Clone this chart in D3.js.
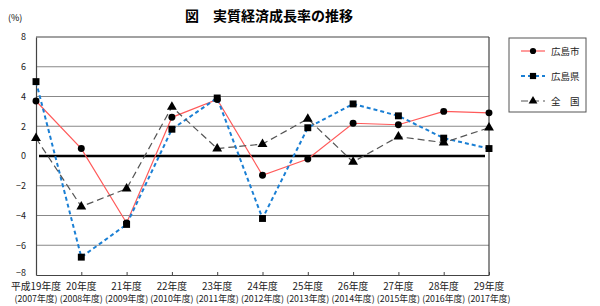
<!DOCTYPE html>
<html><head><meta charset="utf-8">
<script src="https://cdn.jsdelivr.net/npm/d3@7"></script>
<style>body{margin:0;background:#fff}svg{display:block}text{font-family:"Noto Sans CJK JP",sans-serif}</style>
</head><body><svg id="c" width="600" height="306"></svg>
<script>
const years = ["平成19年度","20年度","21年度","22年度","23年度","24年度","25年度","26年度","27年度","28年度","29年度"];
const seireki = ["(2007年度)","(2008年度)","(2009年度)","(2010年度)","(2011年度)","(2012年度)","(2013年度)","(2014年度)","(2015年度)","(2016年度)","(2017年度)"];
const hiroshimaCity = [3.7, 0.5, -4.5, 2.6, 3.8, -1.3, -0.2, 2.2, 2.1, 3.0, 2.9];
const hiroshimaPref = [5.0, -6.8, -4.6, 1.8, 3.9, -4.2, 1.9, 3.5, 2.7, 1.2, 0.5];
const national = [1.2, -3.4, -2.2, 3.3, 0.5, 0.8, 2.5, -0.4, 1.3, 0.9, 1.9];
const yTicks = [-8,-6,-4,-2,0,2,4,6,8];
const seriesNames = ["広島市","広島県","全　国"];

const svg = d3.select("#c");
const L=36, R=489, T=37, B=275;
const x = d3.scalePoint().domain(d3.range(years.length)).range([L,R]);
const y = d3.scaleLinear().domain([-8,8]).range([B,T]);

// title
svg.append("text").attr("x",269).attr("y",21).attr("text-anchor","middle")
  .attr("font-size",14).attr("font-weight","bold").text("図　実質経済成長率の推移");
svg.append("text").attr("x",8).attr("y",21).attr("font-size",9).text("(%)");

// gridlines
svg.append("g").selectAll("line").data(yTicks.filter(d=>d!==0 && d!==-8)).join("line")
  .attr("x1",L).attr("x2",R).attr("y1",d=>y(d)).attr("y2",d=>y(d))
  .attr("stroke",d=>d===8?"#444":"#888").attr("stroke-width",1.2);

// axes
const yAxis = d3.axisLeft(y).tickValues(yTicks).tickSize(0).tickPadding(10).tickFormat(d3.format("d"));
const gy = svg.append("g").attr("transform",`translate(${L},0)`).call(yAxis);
gy.select(".domain").attr("stroke","#444").attr("stroke-width",1.2);
gy.selectAll("text").attr("font-size",9).attr("font-family","Liberation Sans, Arial, sans-serif").attr("fill","#222");
gy.selectAll(".tick").filter(d=>d===-8).select("text").attr("dy","0.1em");

const xAxis = d3.axisBottom(x).tickSizeInner(-3).tickSizeOuter(0).tickFormat("");
const gx = svg.append("g").attr("transform",`translate(0,${B})`).call(xAxis);
gx.select(".domain").attr("stroke","#444").attr("stroke-width",1.2);
gx.selectAll(".tick line").attr("stroke","#444");
svg.append("line").attr("x1",R).attr("x2",R).attr("y1",T).attr("y2",B).attr("stroke","#444").attr("stroke-width",1.2);

// x labels
const lab = svg.append("g");
lab.selectAll("text.a").data(years).join("text").attr("class","a")
  .attr("x",(d,i)=>x(i)).attr("y",290).attr("text-anchor","middle").attr("font-size",9.8).attr("fill","#222").text(d=>d);
lab.selectAll("text.b").data(seireki).join("text").attr("class","b")
  .attr("x",(d,i)=>x(i)).attr("y",302).attr("text-anchor","middle").attr("font-size",8.8).attr("fill","#222").text(d=>d);

// zero line
svg.append("line").attr("x1",L+3).attr("x2",R-4).attr("y1",y(0)).attr("y2",y(0)).attr("stroke","#000").attr("stroke-width",2.5);

const series = [
  {name:seriesNames[0], data:hiroshimaCity, color:"#ff5a5a", width:1.2, dash:null, sym:d3.symbolCircle, size:38},
  {name:seriesNames[1], data:hiroshimaPref, color:"#1a7fd4", width:2, dash:"4,3", sym:d3.symbolSquare, size:48},
  {name:seriesNames[2], data:national, color:"#555", width:1.2, dash:"7,4", sym:d3.symbolTriangle, size:42},
];
const line = d3.line().x((d,i)=>x(i)).y(d=>y(d));
series.forEach(s=>{
  svg.append("path").datum(s.data).attr("d",line).attr("fill","none")
    .attr("stroke",s.color).attr("stroke-width",s.width).attr("stroke-dasharray",s.dash);
});
series.forEach(s=>{
  svg.append("g").selectAll("path").data(s.data).join("path")
    .attr("transform",(d,i)=>`translate(${x(i)},${y(d)})`)
    .attr("d",d3.symbol().type(s.sym).size(s.size)).attr("fill","#000");
});

// legend
const lg = svg.append("g");
lg.append("rect").attr("x",509).attr("y",38).attr("width",77).attr("height",74).attr("fill","#fff").attr("stroke","#555").attr("stroke-width",1);
series.forEach((s,i)=>{
  const yy = 51 + i*25;
  lg.append("line").attr("x1",521).attr("x2",545).attr("y1",yy).attr("y2",yy)
    .attr("stroke",s.color).attr("stroke-width",s.width).attr("stroke-dasharray",s.dash);
  lg.append("path").attr("transform",`translate(533,${yy})`).attr("d",d3.symbol().type(s.sym).size(s.size*0.8)).attr("fill","#000");
  lg.append("text").attr("x",551).attr("y",yy+3.5).attr("font-size",9.5).attr("fill","#222").text(s.name);
});
</script></body></html>
